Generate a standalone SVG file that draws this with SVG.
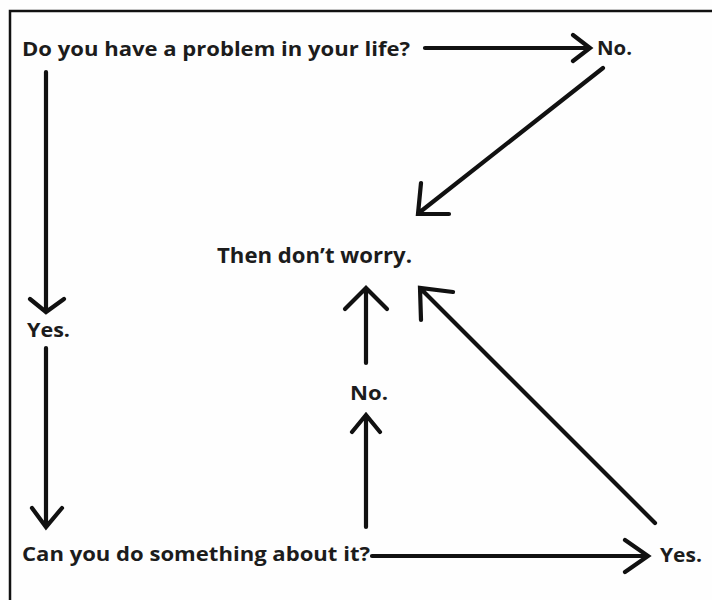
<svg xmlns="http://www.w3.org/2000/svg" width="712" height="600" viewBox="0 0 712 600">
  <style>
    .t { font-family: "Open Sans", "Liberation Sans", sans-serif; font-weight: bold; font-size: 20px; fill: #1c1c1c; }
    .big { font-size: 22px; }
    .arrow { fill: none; stroke: #111; stroke-width: 4.2; stroke-linecap: round; stroke-linejoin: miter; }
    .frame { fill: none; stroke: #111; stroke-width: 2.5; }
  </style>
  <rect x="0" y="0" width="712" height="600" fill="#fefefe"/>
  <path class="frame" d="M10,600 V11 H712"/>
  <g id="q1"><text class="t" x="22" y="56" textLength="388" lengthAdjust="spacingAndGlyphs">Do you have a problem in your life?</text></g>
  <g id="no1"><text class="t" x="597" y="55" textLength="35" lengthAdjust="spacingAndGlyphs">No.</text></g>
  <g id="dontworry"><text class="t big" x="217" y="263" textLength="195" lengthAdjust="spacingAndGlyphs">Then don’t worry.</text></g>
  <g id="yes1"><text class="t" x="27" y="337" textLength="43" lengthAdjust="spacingAndGlyphs">Yes.</text></g>
  <g id="no2"><text class="t" x="350" y="400" textLength="38" lengthAdjust="spacingAndGlyphs">No.</text></g>
  <g id="q2"><text class="t" x="22" y="561" textLength="348" lengthAdjust="spacingAndGlyphs">Can you do something about it?</text></g>
  <g id="yes2"><text class="t" x="660" y="562" textLength="42" lengthAdjust="spacingAndGlyphs">Yes.</text></g>
  <g id="connectors">
    <path class="arrow" d="M425,48 H589 M573,35 L590,48 L573,61"/>
    <path class="arrow" d="M603,68 L420,212 M421,183 L418,214 L449,214"/>
    <path class="arrow" d="M46,72 V311 M30,299 L46,312 L64,299"/>
    <path class="arrow" d="M46,348 V526 M32,508 L46,527 L62,508"/>
    <path class="arrow" d="M372,556 H647 M625,540 L648,556 L625,572"/>
    <path class="arrow" d="M366,527 V417 M352,432 L366,415 L380,432"/>
    <path class="arrow" d="M366,363 V290 M345,309 L366,288 L387,309"/>
    <path class="arrow" d="M655,523 L422,290 M453,292 L420,288 L421,320"/>
  </g>
</svg>
